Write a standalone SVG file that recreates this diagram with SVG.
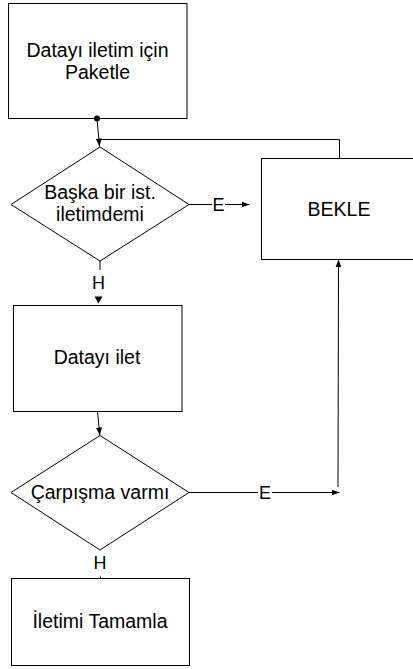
<svg xmlns="http://www.w3.org/2000/svg" width="413" height="669" viewBox="0 0 413 669">
<defs>
<style>
.shape{fill:#fff;stroke:#000;stroke-width:1}
.ln{fill:none;stroke:#000;stroke-width:1}
.t{font-family:"Liberation Sans",Arial,Helvetica,sans-serif;font-size:19.5px;fill:#000;text-anchor:middle}
.lbl{font-family:"Liberation Sans",Arial,Helvetica,sans-serif;font-size:18px;fill:#000;text-anchor:middle}
</style>
<marker id="arr" viewBox="0 0 8 6" refX="8" refY="3" markerWidth="8" markerHeight="6" markerUnits="userSpaceOnUse" orient="auto">
<path d="M0,0 L8,3 L0,6 z" fill="#000"/>
</marker>
</defs>
<rect width="413" height="669" fill="#fff"/>
<g id="node-paketle">
<rect class="shape" x="8.5" y="3.5" width="178.5" height="115"/>
<text class="t" x="97.5" y="57">Datayı iletim için</text>
<text class="t" x="97.5" y="79">Paketle</text>
</g>
<g id="node-baska">
<polygon class="shape" points="100,147 189,204.5 100,261 11,204.5"/>
<text class="t" x="100" y="198.5">Başka bir ist.</text>
<text class="t" x="100" y="220.5">iletimdemi</text>
</g>
<g id="node-bekle">
<rect class="shape" x="261.5" y="158.5" width="170" height="101"/>
<text class="t" x="339" y="215.5">BEKLE</text>
</g>
<g id="node-ilet">
<rect class="shape" x="13.5" y="305.5" width="168.5" height="106"/>
<text class="t" x="97" y="363.5">Datayı ilet</text>
</g>
<g id="node-carpisma">
<polygon class="shape" points="100,435.5 189,492.5 100,550 11,492.5"/>
<text class="t" x="100" y="498.5">Çarpışma varmı</text>
</g>
<g id="node-tamamla">
<rect class="shape" x="11.5" y="578.5" width="178" height="87"/>
<text class="t" x="100" y="628">İletimi Tamamla</text>
</g>
<g id="connectors">
<circle cx="97" cy="118.5" r="3" fill="#000"/>
<path class="ln" d="M97,118.5 L99.5,146.5" marker-end="url(#arr)"/>
<path class="ln" d="M98,139.5 L339.5,139.5 L339.5,158.5"/>
<path class="ln" d="M189,204.5 L212,204.5"/>
<path class="ln" d="M225,204.5 L249.5,204.5" marker-end="url(#arr)"/>
<path class="ln" d="M100,261 L100,270"/>
<path d="M94.5,296.5 L102.5,296.5 L98.5,303.5 z" fill="#000"/>
<path class="ln" d="M97.5,411.5 L99.8,435.5" marker-end="url(#arr)"/>
<path class="ln" d="M189,492.5 L258,492.5"/>
<path class="ln" d="M272,492.5 L339.5,492.5" marker-end="url(#arr)"/>
<path class="ln" d="M338,487 L338.5,259.5" marker-end="url(#arr)"/>
<path class="ln" d="M100.5,576.5 L100.5,578.5"/>
<text class="lbl" x="218.5" y="211">E</text>
<text class="lbl" x="98.5" y="288.5">H</text>
<text class="lbl" x="265" y="499">E</text>
<text class="lbl" x="100" y="569">H</text>
</g>
</svg>
